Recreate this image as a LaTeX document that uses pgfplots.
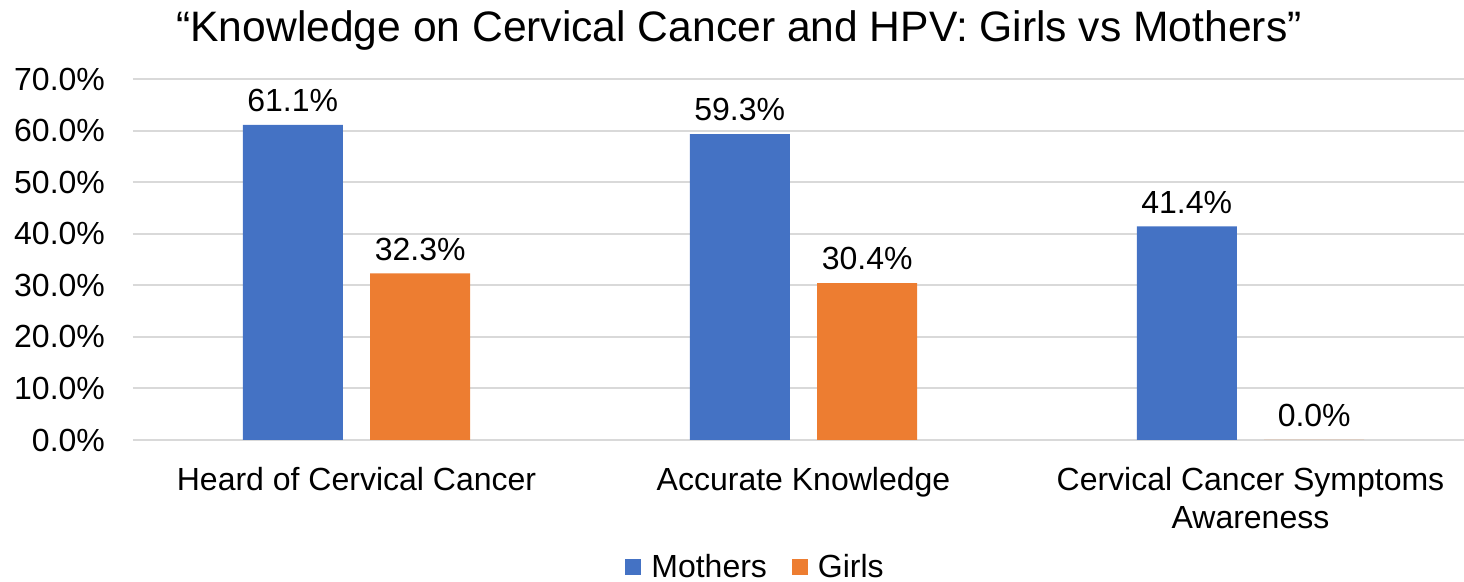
\documentclass[border=0pt]{standalone}
\usepackage{fontspec}
\setmainfont{Liberation Sans}
\usepackage{pgfplots}
\pgfplotsset{compat=1.18}
\definecolor{cblue}{HTML}{4472C4}
\definecolor{corange}{HTML}{ED7D31}
\definecolor{cgrid}{HTML}{D9D9D9}
\begin{document}
\begin{tikzpicture}
\useasboundingbox (-66.5pt,-71pt) rectangle (665.5pt,220pt);
\begin{axis}[
  at={(0pt,0pt)}, anchor=south west,
  scale only axis, width=670.5pt, height=180.5pt,
  xmin=-0.5, xmax=2.5, ymin=0, ymax=70,
  ybar, bar width=0.2237,
  xtick={0,1,2},
  xticklabels={Heard of Cervical Cancer, Accurate Knowledge, {Cervical Cancer Symptoms\\Awareness}},
  ytick={0,10,...,70},
  yticklabel={\pgfmathprintnumber[fixed,fixed zerofill,precision=1]{\tick}\%},
  /pgf/number format/assume math mode=true,
  ymajorgrids, grid style={cgrid, line width=1pt},
  axis line style={draw=none}, major tick length=0pt,
  tick label style={font=\fontsize{16}{19}\selectfont},
  xticklabel style={align=center, yshift=-10pt},
  yticklabel style={xshift=-10.5pt},
  nodes near coords={\pgfmathprintnumber[fixed,fixed zerofill,precision=1]{\pgfplotspointmeta}\%},
  nodes near coords style={font=\fontsize{16}{19}\selectfont, text=black, yshift=3pt, /pgf/number format/assume math mode=true},
  legend style={at={(0.4635,-0.352)}, anchor=center, draw=none, legend columns=2,
    font=\fontsize{16}{19}\selectfont, column sep=5pt, nodes={inner xsep=0pt},
    /tikz/every even column/.append style={column sep=12.5pt}},
  legend image code/.code={\fill[#1] (0pt,-4pt) rectangle (8pt,4pt);},
]
\addplot[fill=cblue, draw=none, bar shift=-0.1426] coordinates {(0,61.1) (1,59.3) (2,41.4)};
\addplot[fill=corange, draw=none, bar shift=0.1426] coordinates {(0,32.3) (1,30.4) (2,0)};
\legend{Mothers, Girls}
\end{axis}
\node[font=\fontsize{21.3}{25}\selectfont, anchor=base] at (303pt,199pt) {“Knowledge on Cervical Cancer and HPV: Girls vs Mothers”};
\end{tikzpicture}
\end{document}
